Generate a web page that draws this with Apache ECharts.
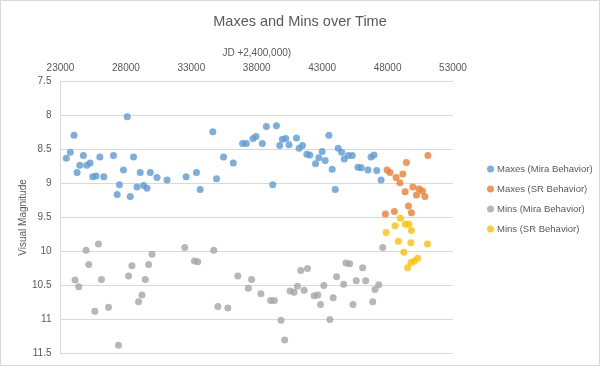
<!DOCTYPE html>
<html><head><meta charset="utf-8">
<script src="https://cdn.jsdelivr.net/npm/echarts@6/dist/echarts.min.js"></script>
<style>html,body{margin:0;padding:0;background:#fff}#c{width:598px;height:364px;border:1px solid #d9d9d9}</style>
</head><body><div id="c"></div>
<script>
const titleText = 'Maxes and Mins over Time';
const xName = 'JD +2,400,000)';
const yName = 'Visual Magnitude';
const xTicks = [23000, 28000, 33000, 38000, 43000, 48000, 53000];
const seriesNames = ['Maxes (Mira Behavior)', 'Maxes (SR Behavior)', 'Mins (Mira Behavior)', 'Mins (SR Behavior)'];

const maxesMira = [
[23445,8.63],[23752,8.54],[24035,8.29],[24265,8.84],[24472,8.73],[24748,8.59],[25009,8.73],[25262,8.70],
[25469,8.90],[25722,8.89],[26006,8.61],[26313,8.90],[27050,8.59],[27333,9.16],[27509,9.02],[27816,8.80],
[28100,8.02],[28330,9.19],[28583,8.61],[28843,9.05],[29096,8.84],[29350,9.03],[29611,9.07],[29863,8.84],
[30377,8.91],[31144,8.95],[32601,8.90],[33391,8.84],[33675,9.09],[34641,8.24],[34925,8.93],[35460,8.61],
[36205,8.70],[36918,8.41],[37201,8.41],[37711,8.34],[37941,8.31],[38428,8.41],[38735,8.16],[39225,9.02],
[39505,8.15],[39755,8.44],[39961,8.35],[40215,8.34],[40468,8.43],[41035,8.33],[41239,8.48],[41495,8.44],
[41826,8.57],[42055,8.58],[42493,8.71],[42746,8.62],[43000,8.53],[43229,8.66],[43512,8.29],[43767,8.79],
[43997,9.09],[44226,8.48],[44488,8.54],[44686,8.64],[44992,8.59],[45299,8.59],[45737,8.76],[45990,8.77],
[46500,8.80],[46734,8.61],[46963,8.58],[47170,8.81],[47502,8.95]
];
const maxesSR = [
[47830,9.45],[47960,8.80],[48190,8.84],[48520,9.41],[48650,8.91],[48934,8.99],[49163,8.86],[49341,9.12],
[49441,8.69],[49594,9.33],[49824,9.43],[49931,9.05],[50207,9.17],[50414,9.08],[50667,9.11],[50851,9.19],
[51081,8.59]
];
const minsMira = [
[24112,10.42],[24396,10.52],[24955,9.98],[25160,10.19],[25622,10.88],[25899,9.89],[26130,10.41],[26667,10.82],
[27433,11.38],[28200,10.36],[28459,10.21],[28966,10.74],[29227,10.64],[29479,10.41],[29733,10.19],[29994,10.04],
[32496,9.94],[33237,10.14],[33490,10.15],[34715,9.98],[35024,10.81],[35791,10.83],[36557,10.36],[37356,10.54],
[37607,10.41],[38321,10.62],[39064,10.72],[39348,10.72],[39854,11.01],[40138,11.30],[40545,10.58],[40852,10.60],
[41112,10.51],[41365,10.28],[41618,10.57],[41878,10.25],[42387,10.65],[42669,10.64],[42875,10.78],[43129,10.50],
[43589,11.00],[43843,10.68],[44103,10.37],[44640,10.48],[44816,10.17],[45100,10.18],[45353,10.78],[45606,10.43],
[46097,10.24],[46327,10.43],[46864,10.74],[47040,10.56],[47323,10.49],[47630,9.94]
];
const minsSR = [
[47884,9.72],[48574,9.62],[48826,9.85],[48982,9.51],[49241,10.01],[49362,9.60],[49528,10.24],[49620,9.60],
[49778,9.87],[49784,10.16],[49824,9.69],[50045,10.14],[50298,10.10],[51050,9.89]
];
const colors = ['#5B9BD5', '#ED7D31', '#A5A5A5', '#FFC000'];

const chart = echarts.init(document.getElementById('c'), null, {renderer: 'canvas'});
const font = 'Liberation Sans, Arial, sans-serif';
const mk = (name, data) => ({name, type: 'scatter', data, symbol: 'circle', symbolSize: 7});
chart.setOption({
  animation: false,
  color: colors,
  textStyle: {fontFamily: font},
  title: {text: titleText, left: 'center', top: 8,
    textStyle: {fontSize: 14.5, fontWeight: 'normal', color: '#595959', fontFamily: font}},
  grid: {left: 59.5, right: 146, top: 80.5, bottom: 11.5, containLabel: false},
  legend: {orient: 'vertical', left: 481, top: 158, itemWidth: 7, itemHeight: 7, itemGap: 10,
    icon: 'circle', data: seriesNames,
    textStyle: {fontSize: 9.5, color: '#595959', fontFamily: font, padding: [0,0,0,-2]}},
  xAxis: {type: 'value', position: 'top', min: 23000, max: 53000,
    name: xName, nameLocation: 'middle', nameGap: 23, nameMoveOverlap: false,
    nameTextStyle: {fontSize: 10, color: '#595959', fontFamily: font},
    axisLine: {show: true, lineStyle: {color: '#d9d9d9'}},
    axisTick: {show: false},
    splitLine: {show: false},
    axisLabel: {customValues: xTicks, formatter: v => String(v), fontSize: 10, color: '#595959', margin: 8, fontFamily: font}},
  yAxis: {type: 'value', inverse: true, min: 7.5, max: 11.5, interval: 0.5,
    name: yName, nameLocation: 'middle', nameGap: 32, nameRotate: 90, nameMoveOverlap: false,
    nameTextStyle: {fontSize: 10, color: '#595959', fontFamily: font},
    axisLine: {show: true, lineStyle: {color: '#d9d9d9'}},
    axisTick: {show: false},
    splitLine: {show: true, lineStyle: {color: '#d9d9d9'}},
    axisLabel: {fontSize: 10, color: '#595959', margin: 9, fontFamily: font}},
  series: [mk(seriesNames[0], maxesMira), mk(seriesNames[1], maxesSR), mk(seriesNames[2], minsMira), mk(seriesNames[3], minsSR)]
});
</script></body></html>
